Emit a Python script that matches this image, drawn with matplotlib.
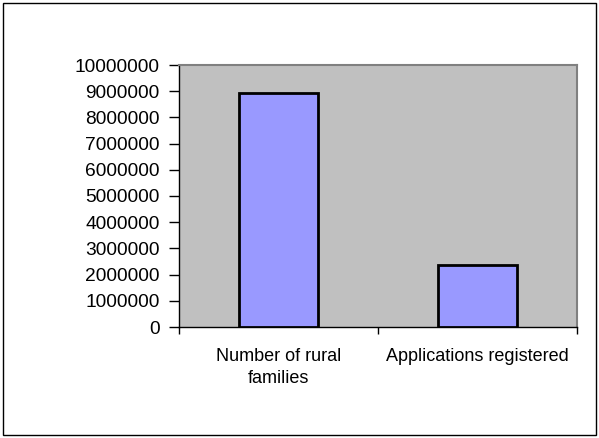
import matplotlib
matplotlib.use("Agg")
import matplotlib.pyplot as plt
from matplotlib.patches import Rectangle

categories = ["Number of rural\nfamilies", "Applications registered"]
values = [8920000, 2370000]
yticks = [0, 1000000, 2000000, 3000000, 4000000, 5000000, 6000000, 7000000, 8000000, 9000000, 10000000]

plt.rcParams['font.family'] = ['Liberation Sans', 'DejaVu Sans']
FS = 13

fig = plt.figure(figsize=(5.99, 4.38), dpi=100)
fig.patches.append(Rectangle((3/599, 3/438), 593/599, 432/438, transform=fig.transFigure,
                             fill=False, edgecolor='black', linewidth=1.0))

ax = fig.add_axes([179/599, 1 - 327/438, (577-179)/599, (327-65)/438])
ax.set_facecolor('#C0C0C0')
x = list(range(len(categories)))
ax.bar(x, values, width=0.4, color='#9999FF', edgecolor='black', linewidth=2, zorder=3)
ax.set_xlim(-0.5, len(categories) - 0.5)
ax.set_ylim(0, 10000000)
ax.set_yticks(yticks)
ax.set_yticklabels([str(v) for v in yticks], fontsize=13.8)
ax.set_xticks(x)
ax.set_xticklabels(categories, fontsize=FS, linespacing=1.4)
ax.tick_params(axis='x', length=0, pad=15)
ax.set_xticks([-0.5, 0.5, 1.5], minor=True)
ax.tick_params(axis='x', which='minor', length=5, width=1, color='black')
ax.tick_params(axis='y', length=7, width=1, color='black', pad=7)
for s in ['top', 'right']:
    ax.spines[s].set_color('#808080')
    ax.spines[s].set_linewidth(1.5)
for s in ['left', 'bottom']:
    ax.spines[s].set_color('black')
    ax.spines[s].set_linewidth(1)

fig.savefig('out.png', dpi=100)
